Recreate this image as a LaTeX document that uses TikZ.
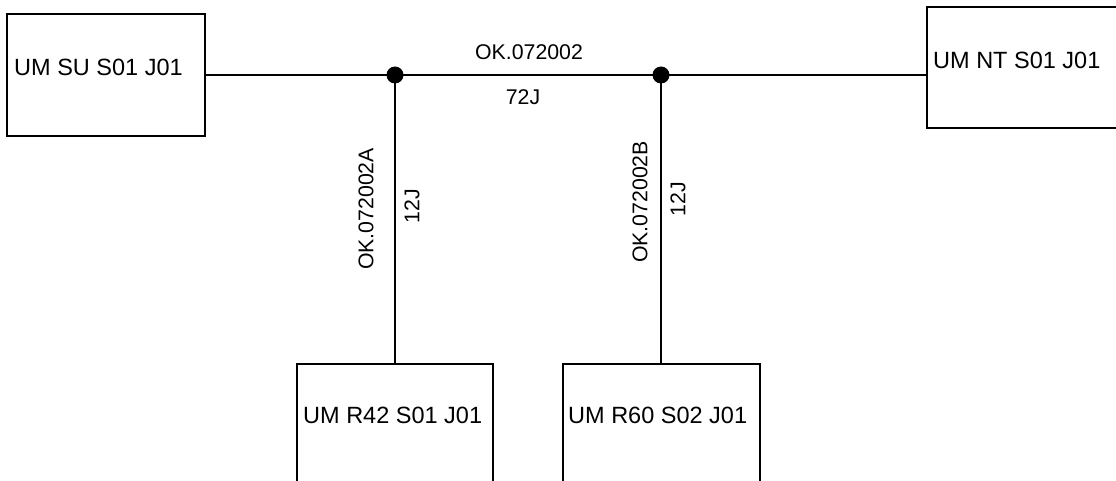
\documentclass[tikz,border=0pt]{standalone}
\usepackage{fontspec}
\setmainfont{Liberation Sans}
\begin{document}
\begin{tikzpicture}[x=1pt,y=-1pt,
  box/.style={draw,line width=1.8pt,minimum width=#1,inner sep=0pt},
  boxtext/.style={anchor=west,inner sep=0pt,font=\fontsize{23.5}{28}\selectfont},
  wire/.style={line width=1.8pt},
  lbl/.style={inner sep=0pt,font=\fontsize{21.3}{25}\selectfont},
  dot/.style={circle,fill=black,inner sep=0pt,minimum size=17pt}]
\useasboundingbox (0,0) rectangle (1116,481);
\clip (0,0) rectangle (1116,481);
\node[box=198pt,minimum height=122pt] (su) at (106,75) {};
\node[box=198pt,minimum height=121pt] (nt) at (1026,67.5) {};
\node[box=196pt,minimum height=122pt] (r42) at (395,425) {};
\node[box=197pt,minimum height=122pt] (r60) at (661.5,425) {};
\node[boxtext] (tsu) at (14,67) {UM SU S01 J01};
\node[boxtext] (tnt) at (933,60.5) {UM NT S01 J01};
\node[boxtext] (tr42) at (303,415.5) {UM R42 S01 J01};
\node[boxtext] (tr60) at (568,415.5) {UM R60 S02 J01};
\coordinate (j1) at (395,75);
\coordinate (j2) at (661,75);
\draw[wire] (su.east |- j1) -- (j1) -- (j2) -- (j2 -| nt.west);
\draw[wire] (j1) -- (j1 |- r42.north);
\draw[wire] (j2) -- (j2 |- r60.north);
\node[dot] (d1) at (j1) {};
\node[dot] (d2) at (j2) {};
\node[lbl] (l1) at (529,52) {OK.072002};
\node[lbl] (l2) at (523,97) {72J};
\node[lbl,rotate=90] (l3) at (366,209) {OK.072002A};
\node[lbl,rotate=90] (l4) at (412,206) {12J};
\node[lbl,rotate=90] (l5) at (640,202) {OK.072002B};
\node[lbl,rotate=90] (l6) at (678,199) {12J};
\end{tikzpicture}
\end{document}
